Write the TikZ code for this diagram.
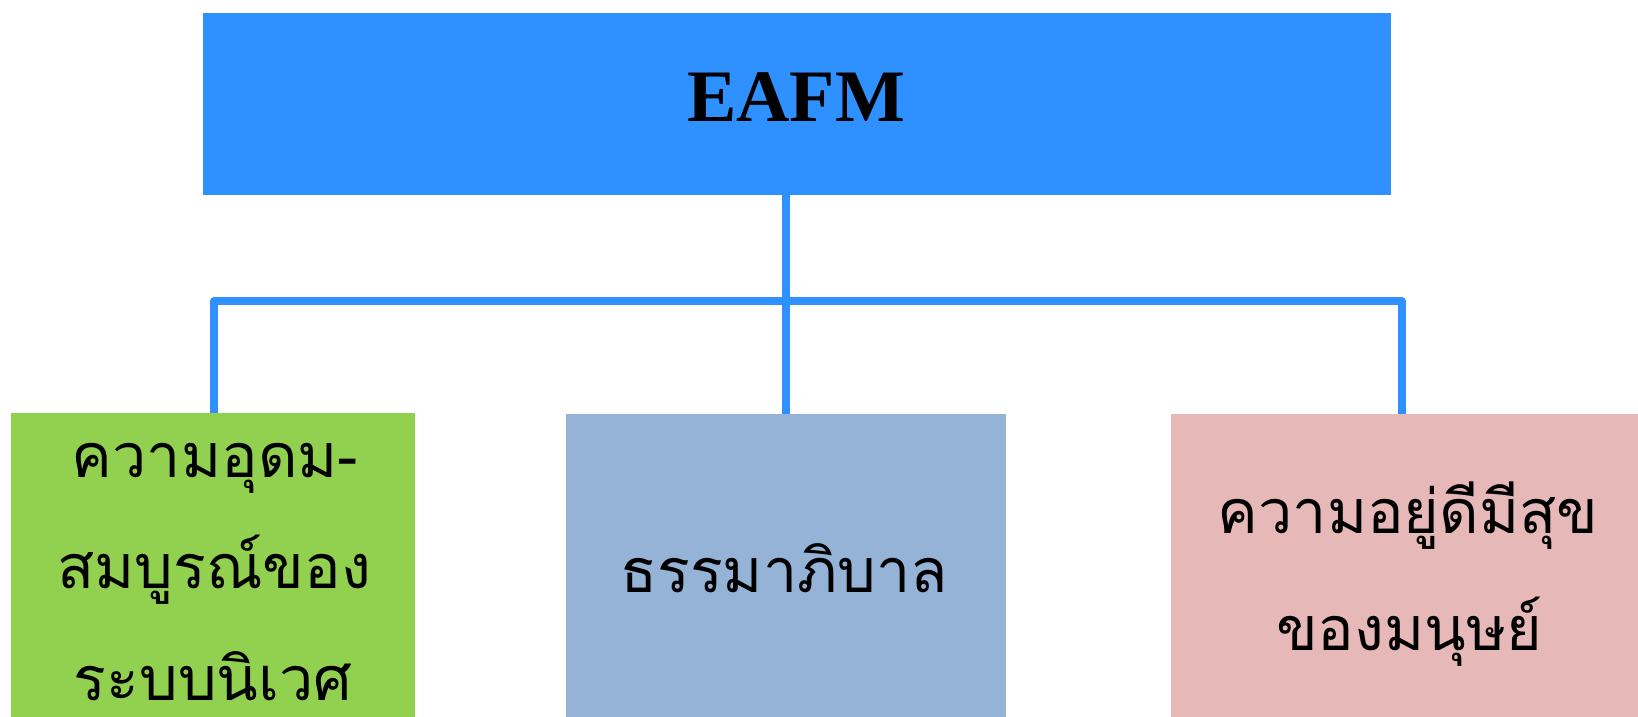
\documentclass[tikz,border=0pt]{standalone}
\usepackage{fontspec}
\setmainfont{Liberation Serif}
\newfontfamily\thaifont[Script=Thai]{Loma}
\definecolor{topblue}{HTML}{2F90FF}
\definecolor{greenbox}{HTML}{92D050}
\definecolor{greybox}{HTML}{95B3D7}
\definecolor{pinkbox}{HTML}{E6B9B8}
\tikzset{
  box/.style={draw=none, inner sep=0pt, anchor=north west, rectangle},
  conn/.style={draw=topblue, line width=8pt, line join=round},
  thai/.style={font=\thaifont\fontsize{61}{61}\selectfont, anchor=base, inner sep=0pt},
}
\begin{document}
\begin{tikzpicture}[x=1pt, y=-1pt]
\path[use as bounding box] (0,0) rectangle (1638,717);
\clip (0,0) rectangle (1638,717);
\node[box, fill=topblue, minimum width=1188pt, minimum height=182.5pt] (top) at (203,12.5) {};
\node[font=\bfseries\fontsize{74}{74}\selectfont, anchor=base, inner sep=0pt] (eafm) at (796,121) {EAFM};
\node[box, fill=greenbox, minimum width=404.5pt, minimum height=304pt] (green) at (10.5,413) {};
\node[box, fill=greybox, minimum width=440pt, minimum height=303pt] (mid) at (566,414) {};
\node[box, fill=pinkbox, minimum width=467pt, minimum height=303pt] (pink) at (1171,414) {};
\coordinate (lb) at (214,301);
\coordinate (rb) at (1401.5,301);
\draw[conn] (mid.north |- top.south) -- (mid.north);
\draw[conn] (green.north -| lb) -- (lb) -- (rb) -- (pink.north -| rb);
\node[thai] (g1) at (215,477) {ความอุดม-};
\node[thai] (g2) at (214,588) {สมบูรณ์ของ};
\node[thai] (g3) at (213,700) {ระบบนิเวศ};
\node[thai] (m1) at (784,592) {ธรรมาภิบาล};
\node[thai] (p1) at (1408,533) {ความอยู่ดีมีสุข};
\node[thai] (p2) at (1409,650) {ของมนุษย์};
\end{tikzpicture}
\end{document}
